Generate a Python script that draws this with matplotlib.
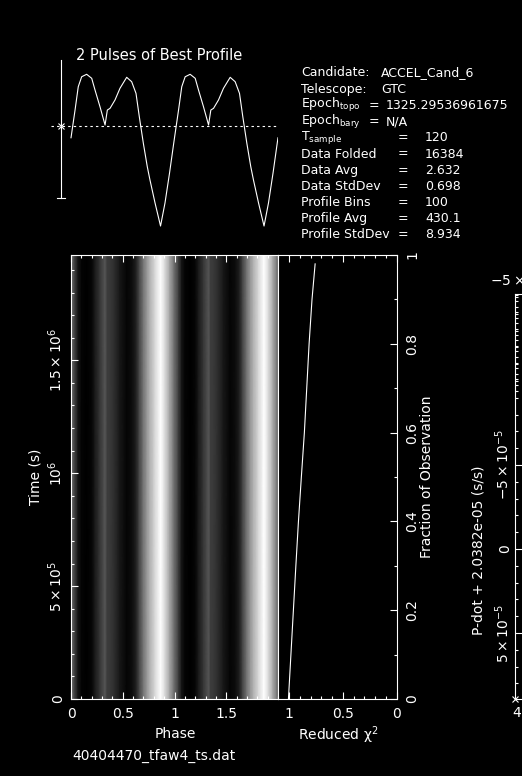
import matplotlib
matplotlib.use("Agg")
import numpy as np
from matplotlib import pyplot as plt
from matplotlib.ticker import MultipleLocator, FixedLocator, FuncFormatter

W, H = 522, 776

# one pulse of the folded profile
prof_phase = [0.0, 0.039, 0.07, 0.103, 0.151, 0.2, 0.232, 0.28, 0.329, 0.351,
              0.377, 0.425, 0.473, 0.538, 0.586, 0.628, 0.66, 0.699, 0.737,
              0.763, 0.812, 0.865, 0.908, 0.952, 0.99, 1.0]
prof_vals = [428.58, 432.17, 435.19, 436.48, 436.80, 436.28, 434.76, 432.60,
             430.23, 432.17, 432.39, 433.47, 434.98, 436.41, 435.84, 434.33,
             431.30, 427.86, 424.83, 423.11, 420.13, 417.15, 420.13, 424.01,
             427.64, 428.58]
prof_avg = 430.1
prof_std = 8.934
t_total = 16384 * 120.0

# reduced chi^2 against fraction of observation
chi_frac = [0.0, 0.1, 0.2, 0.3, 0.4, 0.5, 0.6, 0.7, 0.8, 0.9, 0.98]
chi_vals = [1.006, 0.983, 0.96, 0.937, 0.913, 0.886, 0.858, 0.836, 0.814, 0.787, 0.758]

info_names = ["Candidate:", "Telescope:", r"Epoch$_{\rm topo}$", r"Epoch$_{\rm bary}$",
              r"T$_{\rm sample}$", "Data Folded", "Data Avg", "Data StdDev",
              "Profile Bins", "Profile Avg", "Profile StdDev"]
info_vals = ["ACCEL_Cand_6", "GTC", "1325.29536961675", "N/A", "120", "16384",
             "2.632", "0.698", "100", "430.1", "8.934"]

time_ticks = [0, 5e5, 1e6, 1.5e6]
time_labels = ["0", r"$5\times10^5$", r"$10^6$", r"$1.5\times10^6$"]
pdot_ticks = [-5e-5, 0, 5e-5]
pdot_labels = [r"$-5\times10^{-5}$", "0", r"$5\times10^{-5}$"]

plt.rcParams.update({
    "figure.facecolor": "black", "axes.facecolor": "black",
    "text.color": "white", "axes.edgecolor": "white", "axes.labelcolor": "white",
    "xtick.color": "white", "ytick.color": "white",
    "font.family": "DejaVu Sans", "font.size": 10, "mathtext.default": "regular",
    "axes.linewidth": 0.8, "lines.linewidth": 0.8,
    "xtick.major.size": 5, "xtick.minor.size": 2.5,
    "ytick.major.size": 5, "ytick.minor.size": 2.5,
    "xtick.major.width": 0.8, "xtick.minor.width": 0.8,
    "ytick.major.width": 0.8, "ytick.minor.width": 0.8,
})


def rect(x0, y0, x1, y1):
    # pixel box (top-left origin) -> figure fraction rect
    return [x0 / W, 1 - y1 / H, (x1 - x0) / W, (y1 - y0) / H]


def fpos(x, y):
    return x / W, 1 - y / H


gfmt = FuncFormatter(lambda v, p: "%g" % round(v, 6))

fig = plt.figure(figsize=(W / 100, H / 100), dpi=100)

ph2 = np.concatenate([prof_phase, np.array(prof_phase) + 1])
v2 = np.concatenate([prof_vals, prof_vals])

# ---- profile (2 pulses) ----
ax_prof = fig.add_axes(rect(50, 40, 278, 240))
ax_prof.axis("off")
ax_prof.set_xlim(-0.203, 2.0)
ax_prof.set_ylim(415.34, 441.24)
ax_prof.plot(ph2, v2, color="white")
ax_prof.plot([-0.19, 2.0], [prof_avg, prof_avg], color="white", ls=(0, (2.2, 2.8)))
bar_x = -0.097
bar_c = prof_avg - 0.39
ax_prof.plot([bar_x, bar_x], [bar_c - prof_std, bar_c + prof_std], color="white")
ax_prof.plot([bar_x - 0.039, bar_x + 0.039], [bar_c - prof_std] * 2, color="white")
ax_prof.plot([bar_x], [prof_avg], marker="x", color="white", ms=5, mew=0.8)
fig.text(*fpos(76, 56), "2 Pulses of Best Profile", ha="left", va="center", fontsize=10.5)

# ---- info block ----
fs_info = 9
for i, (name, val) in enumerate(zip(info_names, info_vals)):
    y = 73 + i * 16.2
    fig.text(*fpos(301, y), name, ha="left", va="center", fontsize=fs_info)
    if i < 2:
        fig.text(*fpos(381, y), val, ha="left", va="center", fontsize=fs_info)
    elif i < 4:
        fig.text(*fpos(374, y), "=", ha="center", va="center", fontsize=fs_info)
        fig.text(*fpos(386, y), val, ha="left", va="center", fontsize=fs_info)
    else:
        fig.text(*fpos(403, y), "=", ha="center", va="center", fontsize=fs_info)
        fig.text(*fpos(425, y), val, ha="left", va="center", fontsize=fs_info)

# ---- phase vs time greyscale ----
ax_img = fig.add_axes(rect(71, 255, 278, 699))
ax_img.pcolormesh(ph2, [0, t_total], np.vstack([v2, v2]), shading="gouraud",
                  cmap="gray_r", vmin=min(prof_vals), vmax=max(prof_vals))
ax_img.set_xlim(0, 2)
ax_img.set_ylim(0, t_total)
ax_img.spines["right"].set_visible(False)
ax_img.xaxis.set_major_locator(FixedLocator([0, 0.5, 1, 1.5]))
ax_img.xaxis.set_minor_locator(MultipleLocator(0.1))
ax_img.xaxis.set_major_formatter(gfmt)
ax_img.set_yticks(time_ticks, time_labels)
ax_img.yaxis.set_minor_locator(MultipleLocator(1e5))
ax_img.tick_params(axis="x", which="both", direction="in", top=True, pad=6)
ax_img.tick_params(axis="y", which="both", direction="in", right=False, pad=4)
for lab in ax_img.get_yticklabels():
    lab.set_rotation(90)
    lab.set_va("center")
ax_img.set_ylabel("Time (s)")
ax_img.yaxis.set_label_coords(-0.14, 0.5)
fig.text(*fpos(175, 734), "Phase", ha="center", va="center")
fig.text(*fpos(72, 756), "40404470_tfaw4_ts.dat", ha="left", va="center")

# ---- reduced chi^2 ----
ax_chi = fig.add_axes(rect(278, 255, 396.7, 699))
ax_chi.plot(chi_vals, chi_frac, color="white")
ax_chi.set_xlim(1.103, 0)
ax_chi.set_ylim(0, 1)
ax_chi.xaxis.set_major_locator(MultipleLocator(0.5))
ax_chi.xaxis.set_minor_locator(MultipleLocator(0.1))
ax_chi.xaxis.set_major_formatter(gfmt)
ax_chi.yaxis.set_major_locator(MultipleLocator(0.2))
ax_chi.yaxis.set_minor_locator(MultipleLocator(0.1))
ax_chi.yaxis.set_major_formatter(gfmt)
ax_chi.yaxis.tick_right()
ax_chi.yaxis.set_label_position("right")
ax_chi.tick_params(axis="x", which="both", direction="in", top=True, pad=6)
ax_chi.tick_params(axis="y", which="both", direction="in", left=False, right=True, pad=6)
for lab in ax_chi.get_yticklabels():
    lab.set_rotation(90)
    lab.set_va("center")
ax_chi.set_ylabel("Fraction of Observation")
ax_chi.yaxis.set_label_coords(1.20, 0.5)
fig.text(*fpos(338, 735), r"Reduced $\chi^2$", ha="center", va="center")

# ---- P-dot panel (cut off at the right edge) ----
ax_pd = fig.add_axes(rect(515, 294, 680, 699))
ax_pd.set_ylim(8.93e-5, -1.518e-4)
ax_pd.set_xlim(0, 1)
ax_pd.spines["right"].set_visible(False)
ax_pd.set_xticks([])
ax_pd.set_yticks(pdot_ticks, pdot_labels)
minor_pd = np.concatenate([np.arange(-1.5e-4, 8.9e-5, 1e-5),
                           np.arange(-1.51e-4, -9.1e-5, 1e-5 / 3)])
ax_pd.yaxis.set_minor_locator(FixedLocator(minor_pd))
ax_pd.tick_params(axis="y", which="both", direction="in", pad=2)
for lab in ax_pd.get_yticklabels():
    lab.set_rotation(90)
    lab.set_va("center")
ax_pd.plot([0], [8.93e-5], marker="x", color="white", ms=5, mew=0.8, clip_on=False)
fig.text(*fpos(478, 550), "P-dot + 2.0382e-05 (s/s)", rotation=90, ha="center", va="center")
fig.text(*fpos(490, 280), r"$-5\times10^{-5}$", ha="left", va="center")
fig.text(*fpos(512, 712), r"$4\times10^{-5}$", ha="left", va="center")

fig.savefig("out.png", dpi=100, facecolor="black")
